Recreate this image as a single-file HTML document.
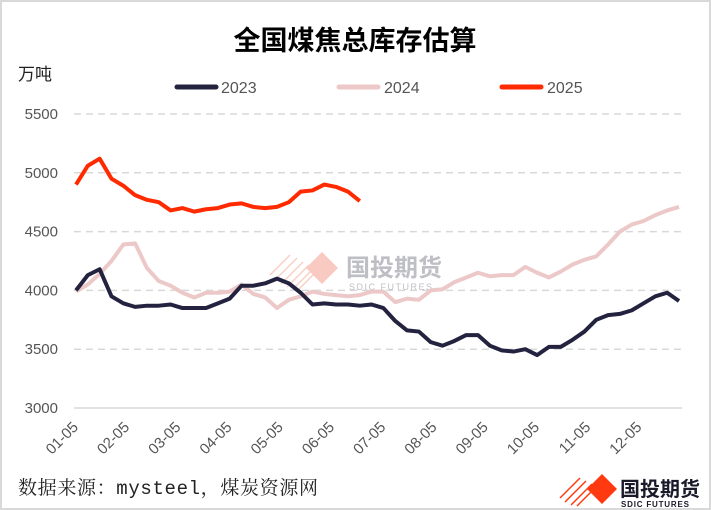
<!DOCTYPE html>
<html><head><meta charset="utf-8"><style>
body{margin:0;background:#fff;}
#wrap{position:relative;width:711px;height:510px;box-sizing:border-box;border:2px solid #d9d9d9;background:#fff;overflow:hidden;font-family:"Liberation Sans","Noto Sans CJK SC",sans-serif;}
</style></head><body>
<div id="wrap">
<svg id="chart" width="711" height="510" style="position:absolute;left:-2px;top:-2px">
<text x="355" y="50" text-anchor="middle" font-size="27" font-weight="bold" fill="#000" font-family="'Noto Sans CJK SC',sans-serif">全国煤焦总库存估算</text>
<text x="18" y="80" font-size="17" fill="#222" font-family="'Noto Sans CJK SC',sans-serif">万吨</text>
<g>
<g><line x1="177" y1="87" x2="216" y2="87" stroke="#232340" stroke-width="5" stroke-linecap="round"/><text x="221" y="93" font-size="16" fill="#555">2023</text></g>
<g><line x1="339" y1="87" x2="378" y2="87" stroke="#ecc9c8" stroke-width="5" stroke-linecap="round"/><text x="384" y="93" font-size="16" fill="#555">2024</text></g>
<g><line x1="502" y1="87" x2="541" y2="87" stroke="#ff2a00" stroke-width="5" stroke-linecap="round"/><text x="547" y="93" font-size="16" fill="#555">2025</text></g>
</g>
<g id="grid"></g><g id="xl"></g>
<g opacity="0.55">
<g stroke="#f2a897" stroke-width="1.5"><line x1="270" y1="275" x2="290" y2="255"/><line x1="275" y1="280" x2="297" y2="258"/><line x1="281" y1="284" x2="303" y2="262"/><line x1="287" y1="287" x2="309" y2="265"/><line x1="293" y1="289" x2="313" y2="269"/><line x1="299" y1="289" x2="315" y2="273"/></g>
<polygon points="322,252 338,268 322,284 306,268" fill="#f5a090"/>
<text x="346" y="276" font-size="24" font-weight="bold" fill="#8a8a96" font-family="'Noto Sans CJK SC',sans-serif">国投期货</text>
<text x="349" y="290" font-size="9" fill="#8a8a96" letter-spacing="1.5">SDIC FUTURES</text>
</g>
<g id="lines"></g>
<text x="18" y="494" font-size="19" fill="#222" font-family="'Liberation Mono','Noto Serif CJK SC',serif" textLength="300">数据来源：mysteel，煤炭资源网</text>
<g>
<g stroke="#ff3a10" stroke-width="1.5"><line x1="560" y1="498" x2="580" y2="478"/><line x1="565" y1="502" x2="586" y2="481"/><line x1="571" y1="505" x2="592" y2="484"/><line x1="577" y1="506" x2="595" y2="488"/></g>
<polygon points="602,474 617,489 602,504 587,489" fill="#ff3a10"/>
<text x="620" y="496" font-size="20" font-weight="bold" fill="#1a1a2a" font-family="'Noto Sans CJK SC',sans-serif">国投期货</text>
<text x="621" y="507" font-size="8" font-weight="bold" fill="#1a1a2a" letter-spacing="0.8">SDIC FUTURES</text>
</g>
</svg>
</div>
<script>
const yTicks=[3000,3500,4000,4500,5000,5500];
const monthLabels=["01-05","02-05","03-05","04-05","05-05","06-05","07-05","08-05","09-05","10-05","11-05","12-05"];
const s2023=[4000,4130,4180,3950,3890,3860,3870,3870,3880,3850,3850,3850,3890,3930,4040,4040,4060,4100,4060,3980,3880,3890,3880,3880,3870,3880,3850,3740,3660,3650,3560,3530,3570,3620,3620,3530,3490,3480,3500,3450,3520,3520,3580,3650,3750,3790,3800,3830,3890,3950,3980,3910];
const s2024=[3990,4050,4140,4250,4390,4400,4190,4080,4040,3980,3940,3980,3980,3990,4050,3970,3940,3850,3920,3950,3990,3970,3960,3950,3960,3990,3990,3900,3930,3920,4000,4010,4070,4110,4150,4120,4130,4130,4200,4150,4110,4160,4220,4260,4290,4390,4500,4560,4590,4640,4680,4710];
const s2025=[4900,5060,5120,4950,4890,4810,4770,4750,4680,4700,4670,4690,4700,4730,4740,4710,4700,4710,4750,4840,4850,4900,4880,4840,4760];
const NS="http://www.w3.org/2000/svg";
const X0=76,X1=679,Y0=408,Y1=114,N=52;
const xs=i=>X0+i*(X1-X0)/(N-1);
const ys=v=>Y0-(v-3000)/(2500)*(Y0-Y1);
const grid=document.getElementById('grid');
yTicks.forEach(t=>{
 const l=document.createElementNS(NS,'line');
 l.setAttribute('x1',74);l.setAttribute('x2',682);l.setAttribute('y1',ys(t));l.setAttribute('y2',ys(t));
 l.setAttribute('stroke','#d9d9d9');l.setAttribute('stroke-width','1.5');
 if(t!==3000)l.setAttribute('stroke-dasharray','7,5');
 
 
 grid.appendChild(l);
 const tx=document.createElementNS(NS,'text');
 tx.setAttribute('x',58);tx.setAttribute('y',ys(t)+5);tx.setAttribute('text-anchor','end');
 tx.setAttribute('font-size','15');tx.setAttribute('fill','#555');tx.textContent=t;
 
 
 grid.appendChild(tx);
});
const xl=document.getElementById('xl');
monthLabels.forEach((m,i)=>{
 const x=X0+3+i*(X1-X0)/(N-1)*52/12;
 const tx=document.createElementNS(NS,'text');
 tx.setAttribute('transform',`translate(${x},428) rotate(-45)`);
 tx.setAttribute('text-anchor','end');tx.setAttribute('font-size','15');tx.setAttribute('fill','#555');
 tx.textContent=m;
 
 
 xl.appendChild(tx);
});
const lines=document.getElementById('lines');
[[s2024,'#ecc9c8','line-2024'],[s2023,'#232340','line-2023'],[s2025,'#ff2a00','line-2025']].forEach(([d,c,n])=>{
 const p=document.createElementNS(NS,'polyline');
 p.setAttribute('points',d.map((v,i)=>xs(i)+','+ys(v)).join(' '));
 p.setAttribute('fill','none');p.setAttribute('stroke',c);p.setAttribute('stroke-width','4');
 p.setAttribute('stroke-linejoin','round');
 
 
 lines.appendChild(p);
});
</script>
</body></html>
